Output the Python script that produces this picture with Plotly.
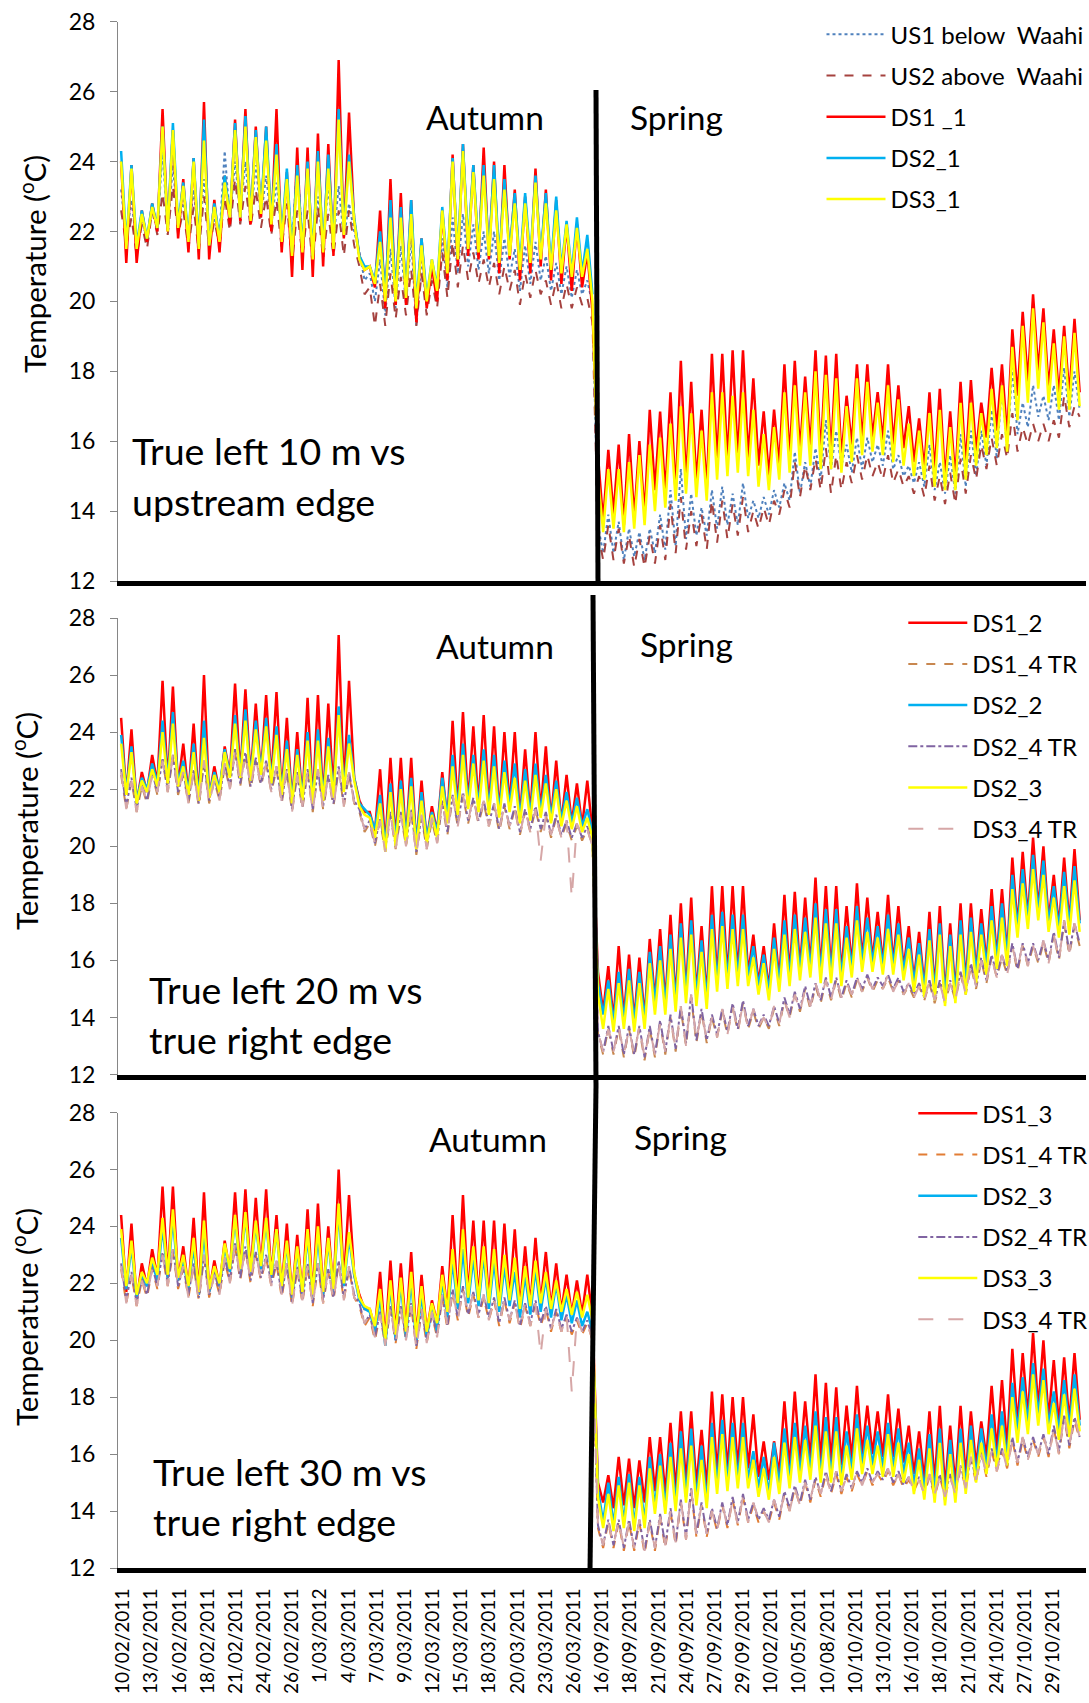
import plotly.graph_objects as go

# ---------------- tick labels (category-style date labels) ----------------
AUT_TICKS = ["10/02/2011", "13/02/2011", "16/02/2011", "18/02/2011", "21/02/2011",
             "24/02/2011", "26/02/2011", "1/03/2012", "4/03/2011", "7/03/2011",
             "9/03/2011", "12/03/2011", "15/03/2011", "18/03/2011", "20/03/2011",
             "23/03/2011", "26/03/2011"]
SPR_TICKS = ["16/09/2011", "18/09/2011", "21/09/2011", "24/09/2011", "27/09/2011",
             "29/09/2011", "10/02/2011", "10/05/2011", "10/08/2011", "10/10/2011",
             "13/10/2011", "16/10/2011", "18/10/2011", "21/10/2011", "24/10/2011",
             "27/10/2011", "29/10/2011"]
Y_TITLE = "Temperature (<sup>o</sup>C)"

# ---------------- daily maxima / minima (deg C), autumn: 46 days, spring: 47 days ----------------
# Panel 1
US1_AUT_MAX = [23.2, 22.9, 22.3, 22.7, 24.3, 23.9, 22.9, 23.2, 23.5, 22.4,
               24.3, 24.0, 24.0, 23.9, 23.6, 23.4, 23.5, 24.0, 23.6, 23.0,
               23.3, 23.3, 22.8, 21.4, 20.8, 21.2, 21.5, 21.6, 21.8, 21.3,
               21.0, 21.8, 22.4, 22.5, 22.2, 22.0, 22.0, 21.8, 21.5, 21.6,
               21.7, 21.3, 21.1, 21.0, 20.9, 20.6]
US1_AUT_MIN = [21.8, 21.6, 21.8, 22.0, 22.0, 22.1, 21.8, 21.7, 21.8, 21.9,
               22.3, 22.5, 22.3, 22.4, 22.2, 21.9, 21.6, 21.7, 21.5, 21.6,
               21.7, 21.8, 22.0, 20.6, 20.0, 19.6, 19.8, 19.9, 19.3, 19.8,
               20.1, 20.4, 20.8, 21.0, 20.9, 20.8, 20.6, 20.7, 20.3, 20.5,
               20.6, 20.3, 20.2, 20.1, 20.2, 19.9]
US1_SPR_MAX = [13.6, 13.9, 13.7, 13.5, 13.4, 13.5, 13.9, 14.6, 15.2, 14.5,
               14.1, 14.6, 14.7, 14.5, 14.8, 14.3, 14.4, 14.6, 14.8, 15.7,
               15.4, 15.8, 16.6, 16.3, 15.9, 16.1, 16.1, 15.9, 16.3, 15.6,
               15.3, 15.4, 15.9, 15.4, 15.6, 16.2, 16.3, 16.3, 16.9, 17.6,
               18.1, 17.1, 17.6, 17.3, 17.6, 18.1, 18.0]
US1_SPR_MIN = [12.8, 12.8, 12.6, 12.7, 12.6, 12.8, 12.9, 13.0, 13.2, 13.3,
               13.3, 13.5, 13.6, 13.6, 13.8, 13.8, 13.9, 14.1, 14.3, 14.5,
               14.7, 14.9, 15.2, 15.3, 15.1, 15.2, 15.4, 15.3, 15.2, 15.0,
               14.8, 14.7, 14.6, 14.5, 14.5, 14.7, 15.0, 15.3, 15.5, 15.7,
               16.2, 16.4, 16.7, 16.6, 16.6, 16.7, 16.9]

US2_AUT_MAX = [22.6, 22.4, 22.2, 22.6, 23.1, 23.3, 22.6, 22.7, 23.0, 22.3,
               23.0, 23.5, 23.3, 23.2, 23.0, 22.9, 22.8, 22.6, 22.6, 22.7,
               22.5, 22.6, 22.6, 21.0, 20.4, 20.5, 20.8, 20.7, 20.9, 20.8,
               20.6, 21.4, 21.7, 21.6, 21.4, 21.2, 21.1, 21.0, 20.9, 20.8,
               20.9, 20.6, 20.6, 20.5, 20.4, 20.1]
US2_AUT_MIN = [21.6, 21.3, 21.5, 21.9, 21.9, 21.9, 21.5, 21.4, 21.5, 21.6,
               22.0, 22.2, 22.1, 22.1, 21.9, 21.5, 21.1, 21.3, 21.0, 21.2,
               21.3, 21.3, 21.6, 20.2, 19.3, 19.3, 19.5, 19.6, 19.3, 19.6,
               19.8, 20.1, 20.4, 20.6, 20.5, 20.4, 20.2, 20.3, 19.9, 20.1,
               20.2, 19.9, 19.8, 19.8, 19.9, 19.4]
US2_SPR_MAX = [13.4, 13.6, 13.5, 13.3, 13.2, 13.3, 13.6, 14.2, 14.4, 14.0,
               13.9, 14.3, 14.3, 14.2, 14.4, 14.0, 14.1, 14.3, 14.6, 15.4,
               15.3, 15.5, 15.8, 15.6, 15.4, 15.6, 15.6, 15.4, 15.6, 15.2,
               15.0, 15.0, 15.3, 15.0, 15.1, 15.5, 15.6, 15.9, 16.1, 16.2,
               16.8, 16.4, 16.5, 16.5, 16.6, 17.3, 17.0]
US2_SPR_MIN = [12.6, 12.6, 12.5, 12.4, 12.4, 12.5, 12.6, 12.8, 12.9, 13.0,
               12.9, 13.1, 13.2, 13.3, 13.4, 13.5, 13.6, 13.9, 14.1, 14.4,
               14.6, 14.6, 14.5, 14.6, 14.8, 14.9, 15.0, 14.9, 14.8, 14.7,
               14.5, 14.4, 14.3, 14.2, 14.2, 14.5, 14.9, 15.2, 15.3, 15.5,
               15.7, 15.9, 16.0, 16.0, 16.1, 16.4, 16.7]

DS1_1_AUT_MAX = [24.0, 23.9, 22.6, 22.8, 25.5, 24.9, 23.5, 24.1, 25.7, 22.9,
                 23.6, 25.2, 25.5, 25.0, 25.0, 25.5, 23.7, 24.4, 24.4, 24.8,
                 24.5, 26.9, 25.4, 21.3, 21.0, 22.6, 23.5, 23.1, 22.9, 21.8,
                 21.0, 22.6, 24.2, 24.5, 23.9, 24.4, 24.0, 23.9, 23.2, 23.0,
                 23.8, 23.2, 22.9, 22.2, 22.2, 21.4]
DS1_1_AUT_MIN = [21.1, 21.1, 21.7, 22.0, 22.0, 21.8, 21.4, 21.2, 21.2, 21.4,
                 22.2, 22.3, 22.2, 22.4, 22.0, 21.4, 20.7, 20.9, 20.7, 21.0,
                 21.3, 21.8, 22.3, 20.9, 20.4, 19.8, 19.9, 19.9, 19.4, 19.8,
                 20.0, 20.6, 21.0, 21.3, 21.2, 21.2, 20.8, 21.2, 20.6, 20.8,
                 21.0, 20.6, 20.5, 20.3, 20.4, 19.7]
DS1_1_SPR_MAX = [15.6, 15.75, 15.9, 16.2, 16.0, 16.9, 16.85, 17.4, 18.3, 17.7,
                 16.9, 18.5, 18.5, 18.6, 18.6, 17.8, 16.85, 16.9, 18.2, 18.3,
                 17.85, 18.6, 18.45, 18.5, 17.3, 18.2, 18.2, 17.4, 18.2, 17.6,
                 17.0, 16.65, 17.4, 17.5, 16.85, 17.7, 17.75, 17.1, 18.1, 18.2,
                 19.2, 19.7, 20.2, 19.8, 19.2, 19.3, 19.5]
DS1_1_SPR_MIN = [13.7, 13.9, 13.6, 13.8, 13.9, 14.6, 14.5, 14.5, 14.8, 14.8,
                 14.6, 15.4, 15.4, 15.5, 15.5, 15.3, 15.0, 15.3, 15.5, 15.7,
                 15.8, 15.6, 15.6, 15.5, 15.9, 16.0, 16.1, 16.0, 15.9, 15.8,
                 15.4, 15.2, 15.1, 14.9, 14.9, 15.3, 15.7, 16.1, 16.3, 16.1,
                 17.3, 17.7, 18.0, 17.5, 17.3, 17.3, 17.4]

DS2_1_AUT_MAX = [24.3, 23.9, 22.6, 22.8, 25.0, 25.1, 23.4, 24.1, 25.2, 22.8,
                 23.6, 25.1, 25.3, 24.9, 25.0, 24.5, 23.8, 23.9, 24.0, 24.3,
                 24.2, 25.5, 24.2, 21.3, 21.0, 22.0, 22.9, 22.7, 22.9, 21.8,
                 21.2, 22.7, 24.1, 24.5, 23.9, 23.9, 23.9, 23.5, 23.1, 23.1,
                 23.6, 23.1, 23.0, 22.3, 22.4, 21.9]
DS2_1_AUT_MIN = [21.6, 21.6, 21.8, 22.1, 22.1, 22.2, 21.8, 21.6, 21.6, 21.8,
                 22.4, 22.4, 22.4, 22.6, 22.3, 21.8, 21.4, 21.5, 21.3, 21.5,
                 21.6, 22.0, 22.4, 21.0, 20.6, 20.2, 20.2, 20.2, 19.9, 20.1,
                 20.4, 20.9, 21.3, 21.6, 21.5, 21.4, 21.2, 21.4, 21.0, 21.2,
                 21.3, 21.0, 20.9, 20.8, 20.8, 20.2]

DS3_1_AUT_MAX = [24.0, 23.8, 22.5, 22.7, 25.0, 24.9, 23.3, 24.0, 24.6, 22.7,
                 23.4, 24.9, 25.0, 24.7, 24.6, 24.2, 23.5, 23.6, 23.8, 24.0,
                 23.8, 25.2, 24.0, 21.2, 21.0, 21.7, 22.4, 22.4, 22.5, 21.6,
                 21.2, 22.6, 24.0, 24.3, 23.7, 23.6, 23.5, 23.2, 22.8, 22.8,
                 23.4, 22.8, 22.6, 22.2, 22.1, 21.5]
DS3_1_AUT_MIN = [21.5, 21.5, 21.8, 22.1, 22.0, 22.1, 21.7, 21.5, 21.6, 21.7,
                 22.4, 22.4, 22.3, 22.5, 22.2, 21.7, 21.3, 21.4, 21.2, 21.4,
                 21.5, 21.9, 22.3, 20.9, 20.5, 20.0, 20.0, 20.1, 19.8, 20.0,
                 20.3, 20.8, 21.2, 21.5, 21.4, 21.3, 21.1, 21.3, 20.9, 21.1,
                 21.2, 20.9, 20.8, 20.7, 20.7, 20.0]
DS3_1_SPR_MAX = [15.0, 15.2, 15.2, 15.4, 15.6, 15.9, 16.1, 16.5, 17.0, 16.8,
                 16.3, 17.4, 17.4, 17.3, 17.4, 16.9, 16.2, 16.4, 17.4, 17.6,
                 17.4, 18.0, 17.9, 17.8, 17.0, 17.8, 17.7, 17.1, 17.6, 17.2,
                 16.5, 16.3, 16.8, 16.9, 16.4, 17.1, 17.1, 16.8, 17.5, 17.6,
                 18.7, 19.3, 19.8, 19.4, 18.8, 19.0, 19.1]
DS3_1_SPR_MIN = [13.4, 13.5, 13.4, 13.5, 13.6, 14.0, 14.1, 14.3, 14.5, 14.4,
                 14.3, 14.9, 15.0, 15.1, 15.0, 14.7, 14.6, 14.9, 15.1, 15.3,
                 15.3, 15.2, 15.2, 15.1, 15.4, 15.6, 15.7, 15.6, 15.4, 15.3,
                 15.0, 14.9, 14.7, 14.6, 14.6, 14.9, 15.3, 15.6, 15.8, 15.7,
                 16.6, 17.1, 17.5, 17.1, 16.9, 16.9, 17.0]

# Panel 2
DS1_2_AUT_MAX = [24.5, 24.1, 22.6, 23.2, 25.8, 25.6, 23.6, 24.3, 26.0, 22.8,
                 23.5, 25.7, 25.5, 25.0, 25.3, 25.4, 24.5, 24.0, 25.2, 25.3,
                 25.0, 27.4, 25.8, 21.6, 21.2, 22.7, 23.1, 23.1, 23.1, 22.3,
                 21.4, 22.6, 24.4, 24.7, 24.2, 24.6, 24.2, 24.0, 24.0, 23.4,
                 24.0, 23.5, 23.0, 22.5, 22.2, 22.3]
DS1_2_AUT_MIN = [21.8, 21.5, 21.9, 22.2, 22.2, 22.1, 21.8, 21.6, 21.7, 21.9,
                 22.5, 22.5, 22.4, 22.5, 22.3, 21.8, 21.5, 21.6, 21.5, 21.6,
                 21.8, 22.0, 22.4, 21.2, 20.5, 20.0, 20.2, 20.2, 20.0, 20.2,
                 20.5, 20.9, 21.3, 21.5, 21.4, 21.3, 21.1, 21.4, 21.0, 21.1,
                 21.2, 20.9, 20.8, 20.8, 20.7, 20.5]
DS1_2_SPR_MAX = [15.6, 15.8, 16.5, 16.2, 16.1, 16.75, 17.1, 17.6, 18.0, 18.2,
                 17.2, 18.6, 18.6, 18.6, 18.6, 16.9, 16.5, 17.3, 18.3, 18.4,
                 18.2, 18.9, 18.6, 18.6, 17.9, 18.7, 18.2, 17.7, 18.3, 17.9,
                 17.2, 17.0, 17.7, 17.9, 17.3, 18.0, 18.0, 17.8, 18.5, 18.5,
                 19.6, 19.8, 20.3, 20.0, 19.0, 19.6, 19.9]
DS1_2_SPR_MIN = [14.2, 13.9, 14.0, 13.9, 14.0, 14.6, 14.5, 14.6, 14.9, 14.8,
                 14.7, 15.3, 15.4, 15.5, 15.5, 15.2, 15.0, 15.3, 15.5, 15.7,
                 15.8, 15.6, 15.6, 15.5, 15.8, 16.0, 16.0, 15.9, 15.9, 15.7,
                 15.3, 15.1, 15.0, 14.8, 14.9, 15.2, 15.6, 15.9, 16.1, 16.2,
                 17.2, 17.5, 17.8, 17.4, 17.2, 17.3, 17.4]

DS2_2_AUT_MAX = [23.9, 23.5, 22.4, 22.9, 24.4, 24.7, 23.0, 23.6, 24.4, 22.6,
                 23.4, 24.6, 24.8, 24.4, 24.5, 24.2, 23.7, 23.4, 24.0, 24.1,
                 23.8, 24.9, 23.9, 21.5, 21.1, 21.8, 22.2, 22.3, 22.4, 21.9,
                 21.2, 22.4, 23.2, 23.6, 23.2, 23.4, 23.2, 23.0, 22.9, 22.7,
                 22.9, 22.5, 22.3, 21.9, 21.7, 21.3]
DS2_2_AUT_MIN = [21.9, 21.6, 22.0, 22.2, 22.3, 22.2, 21.9, 21.7, 21.8, 22.0,
                 22.5, 22.5, 22.4, 22.6, 22.3, 21.9, 21.6, 21.7, 21.6, 21.7,
                 21.8, 22.0, 22.4, 21.3, 20.6, 20.0, 20.2, 20.3, 20.1, 20.3,
                 20.5, 21.0, 21.3, 21.5, 21.4, 21.3, 21.2, 21.4, 21.0, 21.1,
                 21.2, 21.0, 20.9, 20.8, 20.7, 20.5]
DS2_2_SPR_MAX = [15.2, 15.3, 15.6, 15.7, 15.6, 16.3, 16.5, 16.9, 17.3, 17.4,
                 16.7, 17.6, 17.7, 17.6, 17.6, 16.5, 16.2, 16.8, 17.4, 17.6,
                 17.5, 18.0, 17.8, 17.8, 17.2, 17.9, 17.5, 17.2, 17.6, 17.3,
                 16.8, 16.6, 17.1, 17.3, 16.9, 17.4, 17.5, 17.3, 17.9, 18.0,
                 19.0, 19.2, 19.7, 19.5, 18.6, 19.1, 19.3]
DS2_2_SPR_MIN = [14.1, 13.8, 13.9, 13.8, 13.9, 14.5, 14.4, 14.5, 14.8, 14.7,
                 14.6, 15.2, 15.3, 15.4, 15.4, 15.1, 14.9, 15.2, 15.4, 15.6,
                 15.7, 15.5, 15.5, 15.4, 15.7, 15.9, 15.9, 15.8, 15.8, 15.6,
                 15.2, 15.0, 14.9, 14.7, 14.8, 15.1, 15.5, 15.8, 16.0, 16.1,
                 17.1, 17.4, 17.7, 17.3, 17.1, 17.2, 17.3]

DS2_3_AUT_MAX = [23.6, 23.3, 22.3, 22.7, 24.0, 24.3, 22.8, 23.3, 23.8, 22.5,
                 23.3, 24.3, 24.4, 24.1, 24.2, 23.9, 23.4, 23.2, 23.7, 23.7,
                 23.5, 24.6, 23.6, 21.4, 21.0, 21.5, 21.9, 22.0, 22.1, 21.6,
                 21.1, 22.1, 22.8, 23.2, 22.9, 23.0, 22.8, 22.6, 22.4, 22.3,
                 22.5, 22.2, 22.0, 21.6, 21.4, 21.0]
DS2_3_AUT_MIN = [21.8, 21.5, 21.9, 22.1, 22.2, 22.1, 21.8, 21.6, 21.7, 21.9,
                 22.4, 22.4, 22.3, 22.5, 22.2, 21.8, 21.5, 21.6, 21.5, 21.6,
                 21.7, 21.9, 22.3, 21.1, 20.3, 19.8, 20.0, 20.1, 19.9, 20.1,
                 20.3, 20.8, 21.1, 21.3, 21.2, 21.1, 21.0, 21.2, 20.8, 20.9,
                 21.0, 20.8, 20.7, 20.6, 20.5, 20.3]
DS2_3_SPR_MAX = [14.8, 15.0, 15.2, 15.3, 15.2, 15.9, 16.0, 16.4, 16.8, 16.9,
                 16.3, 17.1, 17.2, 17.1, 17.1, 16.1, 15.9, 16.4, 16.9, 17.1,
                 17.0, 17.5, 17.3, 17.3, 16.8, 17.4, 17.0, 16.8, 17.1, 16.9,
                 16.4, 16.2, 16.7, 16.9, 16.5, 16.9, 17.0, 16.9, 17.4, 17.5,
                 18.5, 18.7, 19.2, 19.0, 18.2, 18.6, 18.8]
DS2_3_SPR_MIN = [13.6, 13.5, 13.6, 13.5, 13.6, 14.1, 14.1, 14.2, 14.5, 14.4,
                 14.3, 14.9, 15.0, 15.1, 15.1, 14.8, 14.6, 14.9, 15.1, 15.3,
                 15.4, 15.2, 15.2, 15.1, 15.4, 15.6, 15.6, 15.5, 15.5, 15.3,
                 14.9, 14.7, 14.6, 14.4, 14.5, 14.8, 15.2, 15.5, 15.7, 15.8,
                 16.8, 17.1, 17.4, 17.0, 16.8, 16.9, 17.0]

# True-right (TR) loggers, shown in panels 2 and 3
DS1_4TR_AUT_MAX = [22.5, 22.3, 22.1, 22.5, 23.0, 23.1, 22.5, 22.6, 22.9, 22.3,
                   22.8, 23.3, 23.2, 23.0, 22.9, 22.7, 22.6, 22.5, 22.6, 22.6,
                   22.4, 22.7, 22.5, 21.2, 20.8, 20.9, 21.1, 21.1, 21.2, 21.0,
                   20.9, 21.5, 21.7, 21.8, 21.6, 21.5, 21.4, 21.4, 21.3, 21.2,
                   21.3, 21.1, 21.0, 20.8, 20.7, 20.6]
DS1_4TR_AUT_MIN = [21.3, 21.2, 21.5, 21.8, 21.9, 21.8, 21.5, 21.4, 21.5, 21.6,
                   22.0, 22.1, 22.0, 22.1, 21.9, 21.5, 21.2, 21.3, 21.2, 21.3,
                   21.4, 21.4, 21.5, 20.5, 20.0, 19.8, 19.9, 20.0, 19.7, 19.9,
                   20.1, 20.4, 20.7, 20.8, 20.8, 20.7, 20.5, 20.6, 20.4, 20.5,
                   20.5, 20.3, 20.3, 20.2, 20.2, 20.0]
DS1_4TR_SPR_MAX = [13.4, 13.6, 13.6, 13.6, 13.6, 13.6, 13.8, 14.0, 14.3, 14.7,
                   14.2, 14.0, 14.2, 14.4, 14.5, 14.2, 14.0, 14.3, 14.6, 14.8,
                   15.0, 15.1, 15.3, 15.3, 15.2, 15.3, 15.4, 15.3, 15.4, 15.3,
                   15.1, 15.1, 15.2, 15.2, 15.2, 15.5, 15.8, 16.0, 16.1, 16.1,
                   16.5, 16.5, 16.5, 16.6, 16.9, 17.3, 17.2]
DS1_4TR_SPR_MIN = [12.7, 12.7, 12.6, 12.6, 12.5, 12.6, 12.7, 12.8, 13.0, 13.1,
                   13.1, 13.3, 13.4, 13.5, 13.6, 13.6, 13.6, 13.7, 14.0, 14.2,
                   14.3, 14.5, 14.6, 14.6, 14.7, 14.9, 14.9, 15.0, 14.9, 14.8,
                   14.7, 14.6, 14.5, 14.5, 14.6, 14.8, 15.0, 15.2, 15.4, 15.5,
                   15.6, 15.8, 15.9, 15.9, 16.0, 16.2, 16.5]

DS2_4TR_AUT_MAX = [22.7, 22.4, 22.2, 22.6, 23.1, 23.2, 22.6, 22.7, 23.0, 22.4,
                   22.9, 23.4, 23.3, 23.1, 23.0, 22.8, 22.7, 22.6, 22.7, 22.7,
                   22.5, 22.8, 22.6, 21.3, 20.9, 21.0, 21.2, 21.2, 21.3, 21.1,
                   21.0, 21.6, 21.8, 21.9, 21.7, 21.6, 21.5, 21.5, 21.4, 21.3,
                   21.4, 21.2, 21.1, 20.9, 20.8, 20.7]
DS2_4TR_AUT_MIN = [21.4, 21.3, 21.6, 21.9, 22.0, 21.9, 21.6, 21.5, 21.6, 21.7,
                   22.1, 22.2, 22.1, 22.2, 22.0, 21.6, 21.3, 21.4, 21.3, 21.4,
                   21.5, 21.5, 21.6, 20.6, 20.1, 19.9, 20.0, 20.1, 19.8, 20.0,
                   20.2, 20.5, 20.8, 20.9, 20.9, 20.8, 20.6, 20.7, 20.5, 20.6,
                   20.6, 20.4, 20.4, 20.3, 20.3, 20.1]
DS2_4TR_SPR_MAX = [13.5, 13.7, 13.7, 13.7, 13.7, 13.7, 13.9, 14.1, 14.4, 14.8,
                   14.3, 14.1, 14.3, 14.5, 14.6, 14.3, 14.1, 14.4, 14.7, 14.9,
                   15.1, 15.2, 15.4, 15.4, 15.3, 15.4, 15.5, 15.4, 15.5, 15.4,
                   15.2, 15.2, 15.3, 15.3, 15.3, 15.6, 15.9, 16.1, 16.2, 16.2,
                   16.6, 16.6, 16.6, 16.7, 17.0, 17.4, 17.3]
DS2_4TR_SPR_MIN = [12.8, 12.8, 12.7, 12.7, 12.6, 12.7, 12.8, 12.9, 13.1, 13.2,
                   13.2, 13.4, 13.5, 13.6, 13.7, 13.7, 13.7, 13.8, 14.1, 14.3,
                   14.4, 14.6, 14.7, 14.7, 14.8, 15.0, 15.0, 15.1, 15.0, 14.9,
                   14.8, 14.7, 14.6, 14.6, 14.7, 14.9, 15.1, 15.3, 15.5, 15.6,
                   15.7, 15.9, 16.0, 16.0, 16.1, 16.3, 16.6]

DS3_4TR_AUT_MAX = [22.6, 22.3, 22.1, 22.5, 23.0, 23.2, 22.6, 22.6, 23.0, 22.3,
                   22.9, 23.4, 23.2, 23.1, 22.9, 22.8, 22.7, 22.5, 22.6, 22.7,
                   22.5, 22.7, 22.6, 21.2, 20.9, 20.9, 21.2, 21.1, 21.2, 21.1,
                   21.0, 21.6, 21.8, 21.8, 21.7, 21.6, 21.5, 21.4, 21.3, 21.3,
                   21.3, 21.1, 21.0, 20.9, 20.8, 20.6]
DS3_4TR_AUT_MIN = [21.3, 21.2, 21.6, 21.9, 21.9, 21.9, 21.5, 21.4, 21.5, 21.6,
                   22.0, 22.2, 22.1, 22.1, 21.9, 21.6, 21.2, 21.4, 21.2, 21.3,
                   21.4, 21.4, 21.5, 20.6, 20.1, 19.8, 19.9, 20.0, 19.7, 19.9,
                   20.1, 20.5, 20.7, 20.9, 20.8, 20.7, 20.6, 20.7, 20.4, 20.5,
                   19.5, 20.4, 20.3, 18.2, 20.3, 20.0]
DS3_4TR_SPR_MAX = [13.5, 13.6, 13.7, 13.6, 13.7, 13.6, 13.8, 14.0, 14.4, 14.8,
                   14.2, 14.0, 14.3, 14.4, 14.5, 14.3, 14.0, 14.4, 14.6, 14.8,
                   15.0, 15.2, 15.3, 15.4, 15.2, 15.4, 15.4, 15.3, 15.5, 15.3,
                   15.2, 15.1, 15.3, 15.2, 15.2, 15.6, 15.9, 16.0, 16.1, 16.2,
                   16.5, 16.6, 16.5, 16.7, 16.9, 17.4, 17.3]
DS3_4TR_SPR_MIN = [12.8, 12.8, 12.7, 12.7, 12.6, 12.7, 12.8, 12.9, 13.0, 13.2,
                   13.2, 13.3, 13.4, 13.5, 13.6, 13.7, 13.6, 13.8, 14.0, 14.2,
                   14.4, 14.6, 14.6, 14.7, 14.8, 14.9, 15.0, 15.0, 14.9, 14.8,
                   14.7, 14.6, 14.6, 14.5, 14.6, 14.8, 15.1, 15.3, 15.4, 15.5,
                   15.7, 15.8, 16.0, 15.9, 16.0, 16.3, 16.6]

# Panel 3
DS1_3_AUT_MAX = [24.4, 24.1, 22.7, 23.2, 25.4, 25.4, 23.3, 24.3, 25.2, 22.8,
                 23.5, 25.2, 25.3, 25.0, 25.3, 24.4, 24.1, 23.7, 24.6, 24.8,
                 24.0, 26.0, 25.1, 21.6, 21.1, 22.4, 22.8, 22.7, 23.1, 22.3,
                 21.4, 22.6, 24.4, 25.1, 24.2, 24.2, 24.2, 24.1, 23.9, 23.3,
                 23.6, 23.1, 22.7, 22.3, 22.1, 22.3]
DS1_3_AUT_MIN = [21.7, 21.4, 21.9, 22.2, 22.2, 22.1, 21.8, 21.6, 21.7, 21.9,
                 22.4, 22.4, 22.3, 22.5, 22.2, 21.8, 21.5, 21.6, 21.5, 21.6,
                 21.7, 22.0, 22.3, 21.1, 20.4, 20.0, 20.2, 20.3, 20.1, 20.3,
                 20.6, 21.0, 21.3, 21.5, 21.4, 21.3, 21.2, 21.4, 21.1, 21.2,
                 21.3, 21.1, 21.0, 20.9, 20.9, 20.8]
DS1_3_SPR_MAX = [15.0, 15.26, 15.9, 15.84, 15.78, 16.6, 16.6, 17.1, 17.5, 17.5,
                 16.85, 18.2, 18.1, 18.0, 18.0, 17.4, 16.45, 16.45, 17.85, 18.2,
                 17.85, 18.8, 18.5, 18.35, 17.7, 18.4, 17.7, 17.5, 18.1, 17.6,
                 17.0, 16.8, 17.5, 17.7, 17.0, 17.7, 17.5, 17.15, 18.4, 18.6,
                 19.7, 19.55, 20.25, 20.0, 19.3, 19.4, 19.55]
DS1_3_SPR_MIN = [14.3, 14.1, 14.2, 14.1, 14.3, 14.7, 14.6, 14.7, 15.0, 14.9,
                 14.8, 15.3, 15.4, 15.5, 15.5, 15.2, 15.1, 15.3, 15.5, 15.7,
                 15.8, 15.7, 15.7, 15.6, 15.8, 16.0, 16.0, 15.9, 15.9, 15.7,
                 15.3, 15.1, 15.0, 14.8, 14.9, 15.2, 15.6, 15.9, 16.1, 16.2,
                 17.0, 17.3, 17.6, 17.2, 17.0, 17.1, 17.2]

DS3_3_AUT_MAX = [23.9, 23.5, 22.4, 22.9, 24.3, 24.6, 23.0, 23.6, 24.2, 22.6,
                 23.4, 24.4, 24.5, 24.2, 24.3, 23.9, 23.5, 23.3, 23.9, 24.0,
                 23.6, 24.8, 23.8, 21.5, 21.1, 21.8, 22.1, 22.2, 22.4, 21.9,
                 21.3, 22.3, 23.2, 23.9, 23.3, 23.3, 23.2, 23.0, 22.9, 22.6,
                 22.8, 22.4, 22.1, 21.8, 21.7, 21.6]
DS3_3_AUT_MIN = [21.9, 21.6, 22.0, 22.3, 22.3, 22.2, 21.9, 21.7, 21.8, 22.0,
                 22.5, 22.5, 22.4, 22.6, 22.3, 21.9, 21.6, 21.7, 21.6, 21.7,
                 21.8, 22.0, 22.4, 21.2, 20.5, 20.0, 20.2, 20.3, 20.1, 20.3,
                 20.6, 21.0, 21.3, 21.5, 21.4, 21.3, 21.2, 21.4, 21.1, 21.2,
                 21.3, 21.1, 21.0, 20.9, 20.8, 20.7]
DS3_3_SPR_MAX = [14.5, 14.6, 14.9, 15.0, 14.9, 15.5, 15.6, 15.9, 16.2, 16.3,
                 15.8, 16.6, 16.7, 16.6, 16.6, 15.8, 15.5, 15.9, 16.4, 16.6,
                 16.5, 17.0, 16.8, 16.8, 16.3, 16.9, 16.5, 16.3, 16.7, 16.4,
                 16.0, 15.8, 16.2, 16.4, 16.0, 16.4, 16.5, 16.4, 16.9, 17.0,
                 18.0, 18.2, 18.8, 18.6, 17.8, 18.1, 18.3]
DS3_3_SPR_MIN = [13.4, 13.3, 13.4, 13.3, 13.4, 13.9, 13.9, 14.0, 14.3, 14.2,
                 14.1, 14.6, 14.7, 14.8, 14.8, 14.5, 14.4, 14.6, 14.8, 15.0,
                 15.1, 15.0, 15.0, 14.9, 15.1, 15.3, 15.3, 15.2, 15.2, 15.0,
                 14.6, 14.4, 14.3, 14.2, 14.3, 14.6, 15.0, 15.3, 15.5, 15.6,
                 16.4, 16.7, 17.0, 16.7, 16.5, 16.6, 16.8]

# ---------------- layout helpers ----------------
W, H = 1089, 1703
SPR_START = 46.33          # day position where the spring record begins
X_RANGE = [0, 93.44]


def pxx(p):
    return p / W


def pxy(p):
    return 1 - p / H


def series(aut_max, aut_min, spr_max=None, spr_min=None):
    xs, ys = [], []
    for d, (hi, lo) in enumerate(zip(aut_max, aut_min)):
        xs += [d + 0.3, d + 0.8]
        ys += [hi, lo]
    if spr_max is not None:
        for k, (hi, lo) in enumerate(zip(spr_max, spr_min)):
            xs += [SPR_START + k, SPR_START + k + 0.5]
            ys += [hi, lo]
    return xs, ys


RED, CYAN, YELLOW = "#FF0000", "#00B0F0", "#FFFF00"
BLUE, BROWN = "#4F81BD", "#A5423F"
ORANGE2, ORANGE3, PURPLE, PINK = "#C8874F", "#E27D34", "#8064A2", "#D6A7A7"

fig = go.Figure()


def add(name, data, color, dash, width, row, legend, group):
    xs, ys = series(*data)
    sfx = "" if row == 1 else str(row)
    fig.add_trace(go.Scatter(
        x=xs, y=ys, mode="lines", name=name,
        line=dict(color=color, dash=dash, width=width),
        xaxis="x" + sfx, yaxis="y" + sfx,
        legend=legend, legendgroup=group, hoverinfo="skip"))


# Panel 1
add("US1 below  Waahi", (US1_AUT_MAX, US1_AUT_MIN, US1_SPR_MAX, US1_SPR_MIN), BLUE, "dot", 2, 1, "legend", "a1")
add("US2 above  Waahi", (US2_AUT_MAX, US2_AUT_MIN, US2_SPR_MAX, US2_SPR_MIN), BROWN, "dash", 2, 1, "legend", "a2")
add("DS1 _1", (DS1_1_AUT_MAX, DS1_1_AUT_MIN, DS1_1_SPR_MAX, DS1_1_SPR_MIN), RED, "solid", 2.5, 1, "legend", "a3")
add("DS2_1", (DS2_1_AUT_MAX, DS2_1_AUT_MIN), CYAN, "solid", 2.5, 1, "legend", "a4")
add("DS3_1", (DS3_1_AUT_MAX, DS3_1_AUT_MIN, DS3_1_SPR_MAX, DS3_1_SPR_MIN), YELLOW, "solid", 2.5, 1, "legend", "a5")

TR1 = (DS1_4TR_AUT_MAX, DS1_4TR_AUT_MIN, DS1_4TR_SPR_MAX, DS1_4TR_SPR_MIN)
TR2 = (DS2_4TR_AUT_MAX, DS2_4TR_AUT_MIN, DS2_4TR_SPR_MAX, DS2_4TR_SPR_MIN)
TR3 = (DS3_4TR_AUT_MAX, DS3_4TR_AUT_MIN, DS3_4TR_SPR_MAX, DS3_4TR_SPR_MIN)
DS2_3 = (DS2_3_AUT_MAX, DS2_3_AUT_MIN, DS2_3_SPR_MAX, DS2_3_SPR_MIN)

# Panel 2
add("DS1_2", (DS1_2_AUT_MAX, DS1_2_AUT_MIN, DS1_2_SPR_MAX, DS1_2_SPR_MIN), RED, "solid", 2.5, 2, "legend2", "b1")
add("DS1_4 TR", TR1, ORANGE2, "dash", 2, 2, "legend2", "b2")
add("DS2_2", (DS2_2_AUT_MAX, DS2_2_AUT_MIN, DS2_2_SPR_MAX, DS2_2_SPR_MIN), CYAN, "solid", 2.5, 2, "legend2", "b3")
add("DS2_4 TR", TR2, PURPLE, "dashdot", 2, 2, "legend2", "b4")
add("DS2_3", DS2_3, YELLOW, "solid", 2.5, 2, "legend2", "b5")
add("DS3_4 TR", TR3, PINK, "longdash", 2, 2, "legend2", "b6")

# Panel 3
add("DS1_3", (DS1_3_AUT_MAX, DS1_3_AUT_MIN, DS1_3_SPR_MAX, DS1_3_SPR_MIN), RED, "solid", 2.5, 3, "legend3", "c1")
add("DS1_4 TR", TR1, ORANGE3, "dash", 2, 3, "legend3", "c2")
add("DS2_3", DS2_3, CYAN, "solid", 2.5, 3, "legend3", "c3")
add("DS2_4 TR", TR2, PURPLE, "dashdot", 2, 3, "legend3", "c4")
add("DS3_3", (DS3_3_AUT_MAX, DS3_3_AUT_MIN, DS3_3_SPR_MAX, DS3_3_SPR_MIN), YELLOW, "solid", 2.5, 3, "legend3", "c5")
add("DS3_4 TR", TR3, PINK, "longdash", 2, 3, "legend3", "c6")

FONT = "Lato, 'Open Sans', sans-serif"
tickvals = [0.483 + 2.72 * k for k in range(len(AUT_TICKS) + len(SPR_TICKS))]
ticktext = AUT_TICKS + SPR_TICKS

XDOM = [pxx(118), pxx(1086)]
YDOMS = [[pxy(581), pxy(21.7)], [pxy(1074.5), pxy(618)], [pxy(1568), pxy(1112.5)]]


def xaxis(show_labels, anchor):
    return dict(domain=XDOM, range=X_RANGE, anchor=anchor, showgrid=False, zeroline=False,
                showline=True, linecolor="black", linewidth=5, automargin=False,
                tickmode="array", tickvals=tickvals, ticktext=ticktext,
                showticklabels=show_labels, tickangle=-90, ticks="",
                ticklabelstandoff=8,
                tickfont=dict(family=FONT, size=19, color="black"))


def yaxis(dom, anchor):
    return dict(domain=dom, range=[12, 28], anchor=anchor, dtick=2, tick0=12,
                showgrid=False, zeroline=False, showline=True, linecolor="#868686", linewidth=1,
                ticks="outside", ticklen=7, tickcolor="#868686", ticklabelstandoff=10,
                automargin=False,
                tickfont=dict(family=FONT, size=23, color="black"))


def legend(x_px, top_px):
    return dict(x=pxx(x_px), y=pxy(top_px), xanchor="left", yanchor="top",
                bgcolor="rgba(0,0,0,0)", borderwidth=0, itemwidth=59,
                tracegroupgap=7, font=dict(family=FONT, size=24, color="black"))


annotations = []


def text(s, x_px, y_px, size, anchor="center", angle=0):
    annotations.append(dict(text=s, x=pxx(x_px), y=pxy(y_px), xref="paper", yref="paper",
                            xanchor=anchor, yanchor="middle", showarrow=False, textangle=angle,
                            font=dict(family=FONT, size=size, color="black")))


# y-axis titles (placed as in the reference, above the axis centre)
text(Y_TITLE, 33, 264, 29.5, "center", -90)
text(Y_TITLE, 25, 821, 29.5, "center", -90)
text(Y_TITLE, 25, 1317, 29.5, "center", -90)

text("Autumn", 485, 117, 33.5)
text("Spring", 676, 117, 33.5)
text("True left 10 m vs", 130, 451, 37.5, "left")
text("upstream edge", 130, 501, 37.5, "left")
text("Autumn", 495, 646, 33.5)
text("Spring", 686, 644, 33.5)
text("True left 20 m vs", 147, 989, 37.5, "left")
text("true right edge", 147, 1039, 37.5, "left")
text("Autumn", 488, 1139, 33.5)
text("Spring", 680, 1137, 33.5)
text("True left 30 m vs", 151, 1471, 37.5, "left")
text("true right edge", 151, 1521, 37.5, "left")

shapes = []
for (x0, y0, x1, y1) in [(596, 90, 598, 584), (593, 595, 596, 1086), (596, 1086, 590, 1571)]:
    shapes.append(dict(type="line", xref="paper", yref="paper",
                       x0=pxx(x0), y0=pxy(y0), x1=pxx(x1), y1=pxy(y1),
                       line=dict(color="black", width=5)))

fig.update_layout(
    width=W, height=H, autosize=False,
    margin=dict(l=0, r=0, t=0, b=0, pad=0, autoexpand=False),
    paper_bgcolor="white", plot_bgcolor="white",
    font=dict(family=FONT, color="black"),
    xaxis=xaxis(False, "y"), xaxis2=xaxis(False, "y2"), xaxis3=xaxis(True, "y3"),
    yaxis=yaxis(YDOMS[0], "x"), yaxis2=yaxis(YDOMS[1], "x2"), yaxis3=yaxis(YDOMS[2], "x3"),
    legend=legend(821.5, 12.2), legend2=legend(903.3, 600.6), legend3=legend(913.3, 1091.2),
    annotations=annotations, shapes=shapes, showlegend=True,
)

fig.write_html("out.html", config={"displayModeBar": False})
